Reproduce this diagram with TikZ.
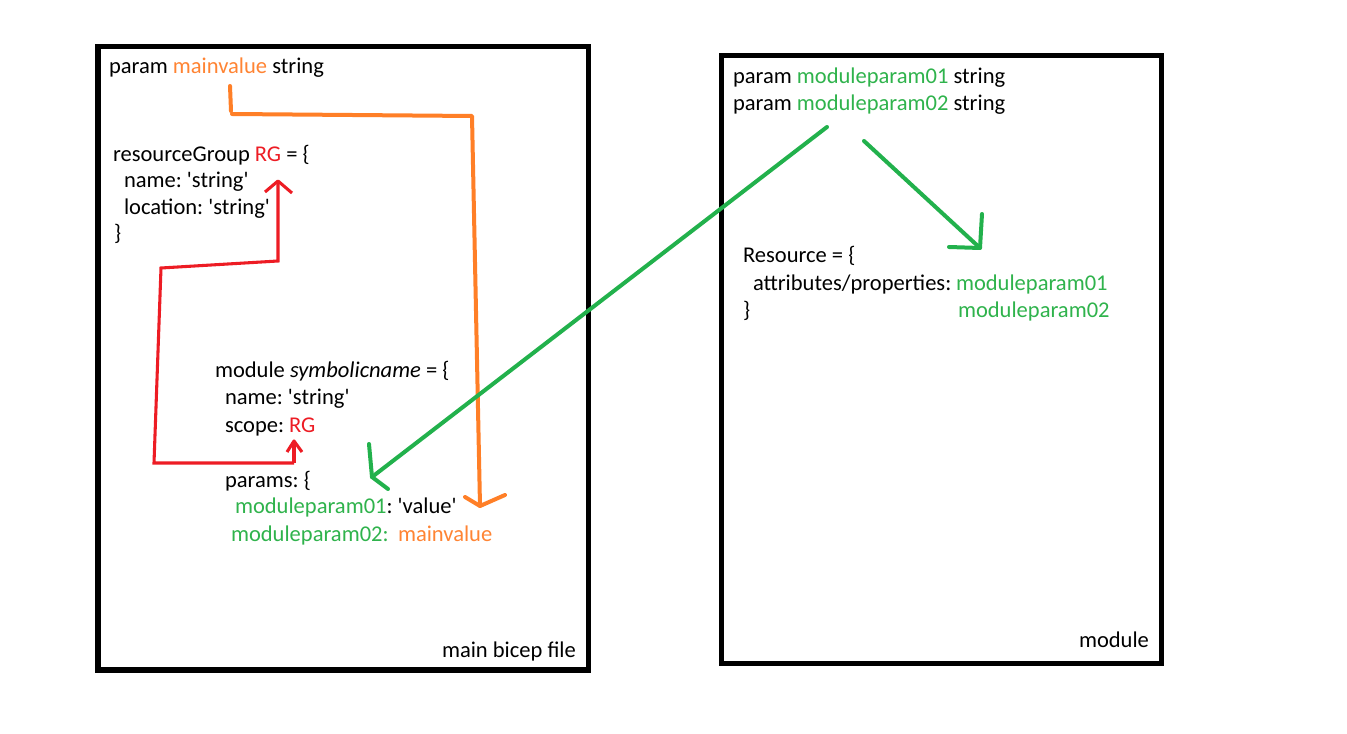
\documentclass[tikz,border=0pt]{standalone}
\usepackage{fontspec}
\newfontfamily\calib{Carlito}
\frenchspacing
\definecolor{pOrange}{HTML}{FF7F27}
\definecolor{pRed}{HTML}{ED1C24}
\definecolor{pGreen}{HTML}{22B14C}
\definecolor{tGreen}{HTML}{2FB34C}
\definecolor{tOrange}{HTML}{FF8433}
\definecolor{tRed}{HTML}{ED1C24}
\begin{document}
\begin{tikzpicture}[x=0.75pt,y=-0.75pt,
  txt/.style={anchor=base west,inner sep=0pt,outer sep=0pt,font=\calib\frenchspacing\fontsize{16.9pt}{19pt}\selectfont},
  filebox/.style={draw=black,line width=4pt},
  oline/.style={draw=pOrange,line width=3pt,line join=round,line cap=round},
  rline/.style={draw=pRed,line width=2.3pt,line join=miter},
  gline/.style={draw=pGreen,line width=3pt,line join=round,line cap=round}]
\useasboundingbox (0,0) rectangle (1347,734);
\fill[white] (0,0) rectangle (1347,734);
% boxes
\draw[filebox] (98,46.5) rectangle (588.5,670);
\draw[filebox] (721.5,55.5) rectangle (1161.5,663.5);
% main file texts
\node[txt] (pmain) at (109,74) {param \textcolor{tOrange}{mainvalue} string};
\node[txt] (rg1) at (113,162) {resourceGroup \textcolor{tRed}{RG} = \{};
\node[txt] (rg2) at (124,188) {name: 'string'};
\node[txt] (rg3) at (124,215) {location: 'string'};
\node[txt] (rg4) at (114,241) {\}};
\node[txt] (m1) at (215,378) {module \textit{symbolicname} = \{};
\node[txt] (m2) at (225,405) {name: 'string'};
\node[txt] (m3) at (225,432) {scope: \textcolor{tRed}{RG}};
\node[txt] (m4) at (225,488) {params: \{};
\node[txt] (m5) at (235,513) {\textcolor{tGreen}{moduleparam01}: 'value'};
\node[txt] (m6) at (231,541) {\textcolor{tGreen}{moduleparam02:}};
\node[txt] (m7) at (398,541) {\textcolor{tOrange}{mainvalue}};
\node[txt] (lblmain) at (442,657) {main bicep file};
% module texts
\node[txt] (p1) at (733,84) {param \textcolor{tGreen}{moduleparam01} string};
\node[txt] (p2) at (733,111) {param \textcolor{tGreen}{moduleparam02} string};
\node[txt] (r1) at (743,263) {Resource = \{};
\node[txt] (r2) at (753,291) {attributes/properties:};
\node[txt] (r3) at (956,291) {\textcolor{tGreen}{moduleparam01}};
\node[txt] (r4) at (743,318) {\}};
\node[txt] (r5) at (958,318) {\textcolor{tGreen}{moduleparam02}};
\node[txt] (lblmod) at (1079,647) {module};
% orange connector
\coordinate (oa) at (230,86);
\coordinate (ob) at (231,111);
\coordinate (oc) at (232,114);
\coordinate (od) at (472,116);
\coordinate (oe) at (480,506);
\draw[oline] (oa) -- (ob);
\draw[oline] (oc) -- (od) -- (oe);
\draw[oline] (465,497) -- (oe) -- (505,495);
% red connector
\coordinate (ra) at (294,463);
\coordinate (rb) at (154,463);
\coordinate (rc) at (161,268);
\coordinate (rd) at (278,261);
\coordinate (re) at (278,181);
\coordinate (rf) at (294,441);
\draw[rline] (ra) -- (rb) -- (rc) -- (rd) -- (re);
\draw[rline] (ra) -- (rf);
\draw[rline,line join=round] (265,192) -- (re) -- (292,193);
\draw[rline,line join=round] (287,452) -- (rf) -- (302,452);
% green connectors
\coordinate (ga) at (827,127);
\coordinate (gb) at (372,477);
\draw[gline] (ga) -- (gb);
\draw[gline] (369,444) -- (gb) -- (388,489);
\coordinate (gc) at (864,141);
\coordinate (gd) at (980,248);
\draw[gline] (gc) -- (gd);
\draw[gline] (982,214) -- (gd) -- (949,247);
\end{tikzpicture}
\end{document}
